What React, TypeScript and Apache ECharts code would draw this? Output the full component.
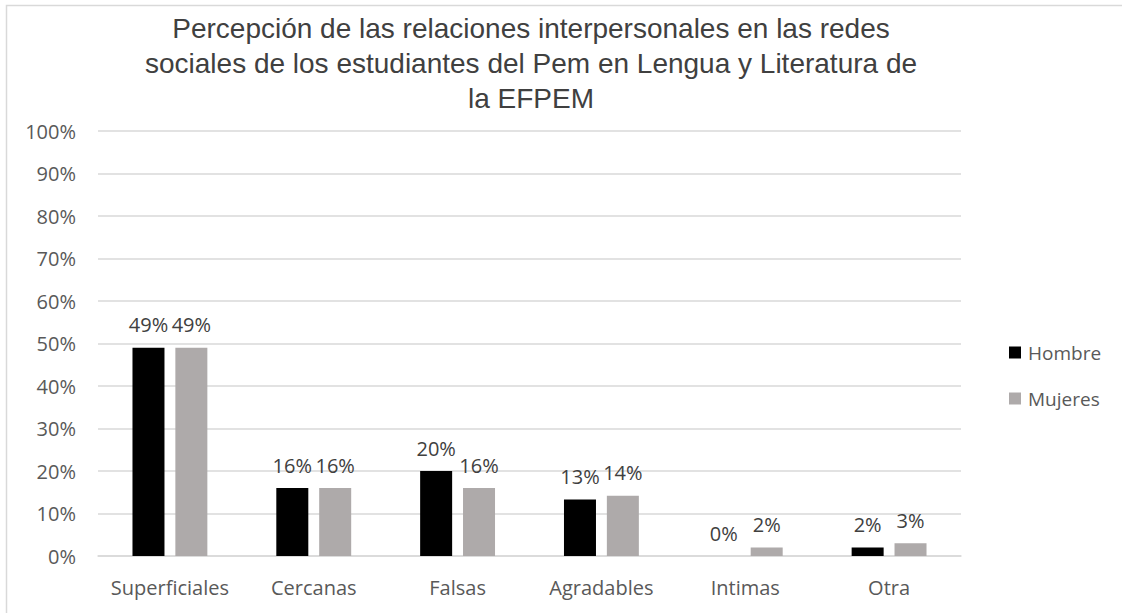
import React, { useEffect, useRef } from "react";
import * as echarts from "echarts";

const categories = ["Superficiales", "Cercanas", "Falsas", "Agradables", "Intimas", "Otra"];
const hombre = [49, 16, 20, 13.3, 0, 2];
const mujeres = [49, 16, 16, 14.2, 2, 3];
const hombreLabels = ["49%", "16%", "20%", "13%", "0%", "2%"];
const mujeresLabels = ["49%", "16%", "16%", "14%", "2%", "3%"];
const titleText =
  "Percepción de las relaciones interpersonales en las redes\nsociales de los estudiantes del Pem en Lengua y Literatura de\nla EFPEM";

export default function App() {
  const ref = useRef<HTMLDivElement>(null);
  useEffect(() => {
    if (!ref.current) return;
    const chart = echarts.init(ref.current, undefined, { renderer: "svg" });
    const labelFont = "'Open Sans', 'Noto Sans', sans-serif";
    chart.setOption({
      animation: false,
      backgroundColor: "#ffffff",
      title: {
        text: titleText,
        left: 526,
        top: 6,
        textAlign: "center",
        textStyle: {
          fontFamily: "'Liberation Sans', Arial, sans-serif",
          fontSize: 28,
          lineHeight: 35,
          fontWeight: "normal",
          color: "#404040",
        },
      },
      graphic: [
        {
          type: "rect",
          shape: { x: 6.5, y: 5.5, width: 1200, height: 700 },
          style: { fill: "none", stroke: "#d9d9d9", lineWidth: 1.5 },
          silent: true,
        },
      ],
      legend: {
        orient: "vertical",
        left: 1004,
        top: 338,
        itemWidth: 12,
        itemHeight: 12,
        itemGap: 27,
        icon: "rect",
        textStyle: { fontFamily: labelFont, fontSize: 19, color: "#595959", padding: [0, 0, 0, 2] },
        data: ["Hombre", "Mujeres"],
      },
      grid: { left: 98, right: 161, top: 131, bottom: 57, containLabel: false },
      xAxis: {
        type: "category",
        data: categories,
        axisLine: { lineStyle: { color: "#d9d9d9", width: 1.5 } },
        axisTick: { show: false },
        axisLabel: { interval: 0, fontFamily: labelFont, fontSize: 20, color: "#595959", margin: 21 },
      },
      yAxis: {
        type: "value",
        min: 0,
        max: 100,
        interval: 10,
        axisLine: { show: false },
        axisTick: { show: false },
        splitLine: { lineStyle: { color: "#d9d9d9", width: 1.5 } },
        axisLabel: { fontFamily: labelFont, fontSize: 20, color: "#595959", margin: 22, formatter: "{value}%" },
      },
      series: [
        {
          name: "Hombre",
          type: "bar",
          data: hombre,
          barWidth: 32,
          barGap: "34%",
          itemStyle: { color: "#000000" },
          label: {
            show: true,
            position: "top",
            distance: 13,
            fontFamily: labelFont,
            fontSize: 20,
            color: "#404040",
            formatter: (p: any) => hombreLabels[p.dataIndex],
          },
        },
        {
          name: "Mujeres",
          type: "bar",
          data: mujeres,
          barWidth: 32,
          itemStyle: { color: "#aeaaaa" },
          label: {
            show: true,
            position: "top",
            distance: 13,
            fontFamily: labelFont,
            fontSize: 20,
            color: "#404040",
            formatter: (p: any) => mujeresLabels[p.dataIndex],
          },
        },
      ],
    });
    return () => chart.dispose();
  }, []);
  return (
    <div
      ref={ref}
      style={{ position: "fixed", left: 0, top: 0, width: 1122, height: 613, background: "#fff" }}
    />
  );
}
